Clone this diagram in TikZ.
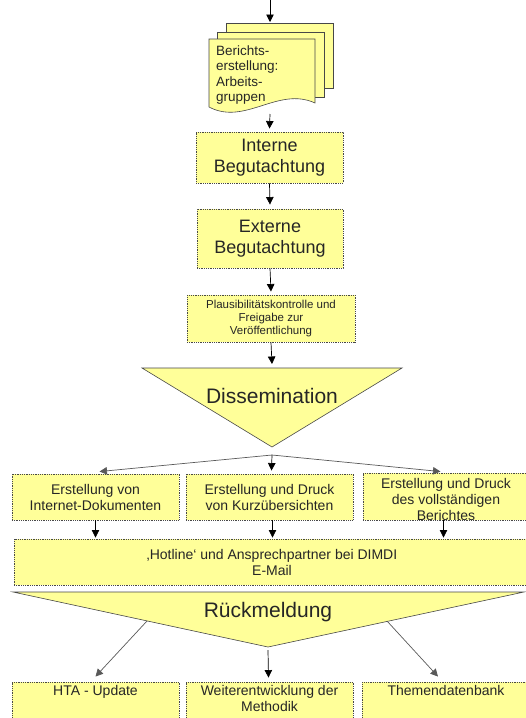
\documentclass[tikz,border=0pt]{standalone}
\usepackage{fontspec}
\setmainfont{Liberation Sans}
\usetikzlibrary{arrows.meta,calc}
\definecolor{boxfill}{HTML}{FFFF99}
\definecolor{edgegray}{HTML}{484848}
\begin{document}
\begin{tikzpicture}[x=1pt,y=-1pt,
  box/.style={draw=edgegray, dash pattern=on 1pt off 0.8pt, line width=0.9pt, fill=boxfill, inner sep=0pt, align=center, text=black!85},
  tri/.style={draw=edgegray, line width=0.6pt, fill=boxfill},
  sheet/.style={draw=edgegray, line width=0.6pt, fill=boxfill},
  lbl/.style={inner sep=0pt, align=center, text=black!85},
  arr/.style={-{Triangle[length=7.5pt,width=7.5pt]}, black, line width=0.7pt},
  garr/.style={-{Triangle[length=7.5pt,width=7.5pt]}, draw=black!65, line width=0.7pt},
  f14/.style={font=\fontsize{14}{16}\selectfont},
]
\useasboundingbox (0,0) rectangle (526,718);

% document stack
\draw[sheet] (226,23) rectangle (333,88);
\draw[sheet] (217,32) rectangle (324,97);
\draw[sheet] (209,39) -- (315,39) -- (315,103) .. controls (278,86) and (245,126) .. (209,107) -- cycle;
\node[lbl, anchor=west, align=left, font=\fontsize{13.5}{15.4}\selectfont] (doc) at (216,75) {Berichts-\\erstellung:\\Arbeits-\\gruppen};
\coordinate (start) at (270,0);
\coordinate (stacktop) at (270,22);
\coordinate (docbot) at (270,114);

\node[box, minimum width=147pt, minimum height=51pt, font=\fontsize{18}{20.5}\selectfont] (intern) at (269.5,157.5) {Interne\\Begutachtung};
\node[box, minimum width=146pt, minimum height=59pt, font=\fontsize{18}{20.5}\selectfont] (extern) at (270,238.5) {Externe\\Begutachtung};
\node[box, minimum width=168pt, minimum height=47pt, font=\fontsize{11.5}{13}\selectfont] (plaus) at (271,318.5) {Plausibilitätskontrolle und\\Freigabe zur\\Veröffentlichung};

% Dissemination
\draw[tri] (142,368) -- (402,368) -- (272,447) -- cycle;
\node[lbl, font=\fontsize{21}{24}\selectfont] (diss) at (272,396) {Dissemination};
\coordinate (disstop) at (272,364);
\coordinate (br) at (272,455);

\node[box, f14, minimum width=167pt, minimum height=46pt] (e1) at (95.5,497) {Erstellung von\\Internet-Dokumenten};
\node[box, f14, minimum width=167pt, minimum height=46pt] (e2) at (269.5,497) {Erstellung und Druck\\von Kurzübersichten};
\node[box, minimum width=167pt, minimum height=47pt] (e3) at (446.5,496.5) {};
\node[lbl, f14] (e3t) at (446,499) {Erstellung und Druck\\des vollständigen\\Berichtes};

\node[box, f14, minimum width=516pt, minimum height=46pt] (hot) at (272,562) {‚Hotline‘ und Ansprechpartner bei DIMDI\\E-Mail};

% Rueckmeldung
\draw[tri] (13,592) -- (524,592) -- (268,647) -- cycle;
\node[lbl, font=\fontsize{21}{24}\selectfont] (rueck) at (268,612) {Rückmeldung};
\coordinate (r1) at (147,621);
\coordinate (r2) at (268,650);
\coordinate (r3) at (387,621);

\node[box, minimum width=167pt, minimum height=56pt] (b1) at (95.5,710) {};
\node[box, minimum width=167pt, minimum height=56pt] (b2) at (269.5,710) {};
\node[box, minimum width=168pt, minimum height=56pt] (b3) at (446,710) {};
\node[lbl, f14, anchor=north] (b1t) at ($(b1.north)+(0,4)$) {HTA - Update};
\node[lbl, f14, anchor=north] (b2t) at ($(b2.north)+(0,4)$) {Weiterentwicklung der\\Methodik};
\node[lbl, f14, anchor=north] (b3t) at ($(b3.north)+(0,4)$) {Themendatenbank};

% connectors
\draw[arr] (start) -- (stacktop);
\draw[arr] (docbot) -- ($(intern.north)+(0,-3)$);
\draw[arr] (intern.south) -- ($(extern.north)+(0,-4)$);
\draw[arr] (extern.south) -- ($(plaus.north)+(0,-3)$);
\draw[arr] (plaus.south) -- (disstop);
\draw[garr] (br) -- ($(e1.north)+(4,-2)$);
\draw[arr] (br) -- ($(e2.north)+(2,-3)$);
\draw[garr] (br) -- ($(e3.north)+(-6,-1)$);
\draw[arr] (e1.south) -- ($(e1.south |- hot.north)+(0,-1)$);
\draw[arr] ($(e2.south)+(3,0)$) -- ($(e2.south |- hot.north)+(3,-1)$);
\draw[arr] ($(e3.south)+(-3,0)$) -- ($(e3.south |- hot.north)+(-3,-1)$);
\draw[garr] (r1) -- ($(b1.north)+(0,-5)$);
\draw[arr] (r2) -- ($(b2.north)+(-1,-4)$);
\draw[garr] (r3) -- ($(b3.north)+(-8,-5)$);
\end{tikzpicture}
\end{document}
